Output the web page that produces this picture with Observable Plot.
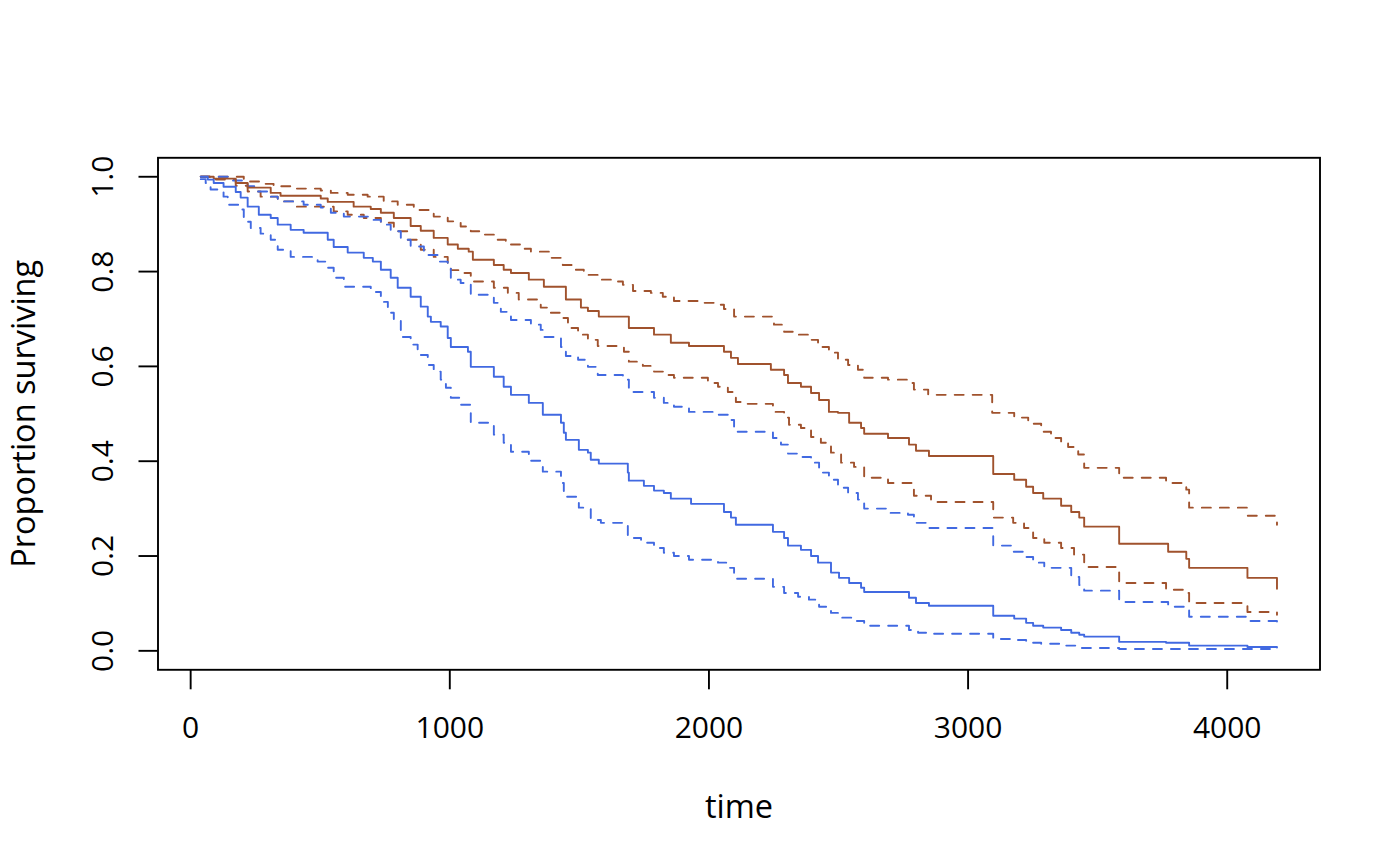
<!DOCTYPE html>
<html>
<head>
<meta charset="utf-8">
<script src="https://cdn.jsdelivr.net/npm/d3@7"></script>
<script src="https://cdn.jsdelivr.net/npm/@observablehq/plot@0.6"></script>
<style>
  html, body { margin: 0; padding: 0; background: #ffffff; }
  #chart { width: 1400px; height: 866px; }
</style>
</head>
<body>
<div id="chart"></div>
<script>
// ---------- data ----------
const xTicks = [0, 1000, 2000, 3000, 4000];
const yTicks = [0, 0.2, 0.4, 0.6, 0.8, 1.0];

// group 1 (brown): Kaplan-Meier estimate
const brownTime = [39, 89, 174, 220, 309, 347, 502, 529, 629, 695, 734, 784, 849, 888, 938, 992, 1031, 1073, 1089, 1170, 1208, 1236, 1305, 1363, 1448, 1506, 1533, 1575, 1691, 1788, 1853, 1923, 2058, 2085, 2112, 2239, 2290, 2305, 2355, 2394, 2425, 2463, 2498, 2541, 2587, 2599, 2691, 2772, 2799, 2849, 3097, 3178, 3224, 3251, 3290, 3359, 3398, 3429, 3448, 3583, 3772, 3842, 3853, 4078, 4192];
const brownSurv = [1.0, 0.996, 0.987, 0.977, 0.966, 0.96, 0.954, 0.947, 0.937, 0.932, 0.924, 0.913, 0.896, 0.886, 0.871, 0.857, 0.848, 0.842, 0.825, 0.814, 0.804, 0.797, 0.783, 0.768, 0.741, 0.724, 0.717, 0.705, 0.681, 0.667, 0.650, 0.643, 0.631, 0.618, 0.605, 0.593, 0.582, 0.565, 0.557, 0.544, 0.529, 0.504, 0.502, 0.481, 0.470, 0.458, 0.449, 0.435, 0.422, 0.411, 0.373, 0.361, 0.346, 0.333, 0.321, 0.306, 0.293, 0.281, 0.262, 0.226, 0.209, 0.194, 0.175, 0.154, 0.131];

// group 1 (brown): upper confidence limit
const brownUpperTime = [39, 205, 270, 320, 386, 502, 541, 606, 683, 745, 799, 861, 938, 992, 1042, 1081, 1120, 1170, 1216, 1274, 1313, 1390, 1436, 1479, 1517, 1571, 1622, 1668, 1707, 1776, 1822, 1865, 1969, 2035, 2058, 2097, 2251, 2290, 2344, 2386, 2421, 2463, 2498, 2537, 2575, 2599, 2691, 2768, 2791, 2846, 3093, 3178, 3232, 3282, 3320, 3359, 3386, 3425, 3448, 3583, 3764, 3842, 3853, 4078, 4192];
const brownUpperSurv = [1.0, 0.990, 0.985, 0.980, 0.975, 0.971, 0.966, 0.962, 0.958, 0.948, 0.941, 0.930, 0.916, 0.906, 0.895, 0.885, 0.878, 0.867, 0.857, 0.848, 0.842, 0.829, 0.814, 0.804, 0.793, 0.783, 0.779, 0.772, 0.759, 0.755, 0.747, 0.738, 0.734, 0.730, 0.721, 0.705, 0.688, 0.673, 0.667, 0.656, 0.641, 0.629, 0.614, 0.603, 0.593, 0.576, 0.572, 0.565, 0.551, 0.540, 0.502, 0.492, 0.479, 0.462, 0.449, 0.441, 0.430, 0.414, 0.386, 0.365, 0.354, 0.340, 0.302, 0.285, 0.266];

// group 1 (brown): lower confidence limit
const brownLowerTime = [39, 89, 174, 220, 270, 336, 398, 552, 606, 668, 734, 784, 838, 888, 938, 992, 1004, 1054, 1081, 1170, 1224, 1266, 1351, 1390, 1429, 1456, 1495, 1533, 1571, 1672, 1691, 1745, 1788, 1842, 1865, 1996, 2035, 2073, 2104, 2124, 2247, 2290, 2309, 2355, 2394, 2432, 2471, 2510, 2560, 2599, 2691, 2791, 2857, 3097, 3174, 3216, 3251, 3294, 3359, 3409, 3448, 3583, 3764, 3842, 3853, 4078, 4192];
const brownLowerSurv = [1.0, 0.994, 0.981, 0.969, 0.958, 0.948, 0.937, 0.927, 0.920, 0.913, 0.903, 0.885, 0.867, 0.846, 0.831, 0.810, 0.803, 0.797, 0.779, 0.766, 0.755, 0.741, 0.724, 0.713, 0.702, 0.681, 0.667, 0.656, 0.643, 0.631, 0.610, 0.601, 0.589, 0.582, 0.576, 0.565, 0.557, 0.546, 0.525, 0.521, 0.504, 0.492, 0.477, 0.470, 0.451, 0.439, 0.418, 0.397, 0.388, 0.365, 0.354, 0.327, 0.314, 0.281, 0.270, 0.259, 0.238, 0.228, 0.217, 0.203, 0.177, 0.143, 0.129, 0.122, 0.101, 0.082, 0.076];

// group 2 (blue): Kaplan-Meier estimate
const blueTime = [39, 66, 89, 127, 174, 193, 220, 263, 309, 336, 386, 436, 529, 552, 606, 668, 703, 734, 772, 799, 849, 888, 915, 927, 965, 992, 1004, 1070, 1081, 1170, 1208, 1236, 1305, 1359, 1429, 1440, 1448, 1498, 1533, 1544, 1575, 1687, 1691, 1749, 1788, 1826, 1853, 1931, 2058, 2085, 2104, 2247, 2290, 2305, 2355, 2394, 2421, 2471, 2502, 2541, 2587, 2599, 2772, 2799, 2849, 3097, 3178, 3224, 3251, 3290, 3359, 3398, 3429, 3448, 3583, 3764, 3853, 4078, 4192];
const blueSurv = [1.0, 0.994, 0.987, 0.979, 0.968, 0.956, 0.937, 0.920, 0.913, 0.899, 0.888, 0.882, 0.867, 0.852, 0.840, 0.829, 0.821, 0.804, 0.787, 0.766, 0.747, 0.726, 0.705, 0.694, 0.684, 0.660, 0.641, 0.631, 0.599, 0.578, 0.557, 0.540, 0.523, 0.498, 0.481, 0.460, 0.445, 0.424, 0.418, 0.403, 0.395, 0.376, 0.359, 0.348, 0.338, 0.333, 0.321, 0.310, 0.293, 0.281, 0.266, 0.251, 0.238, 0.222, 0.213, 0.200, 0.186, 0.165, 0.154, 0.143, 0.133, 0.124, 0.112, 0.101, 0.095, 0.074, 0.068, 0.059, 0.053, 0.049, 0.044, 0.038, 0.034, 0.030, 0.019, 0.017, 0.011, 0.008, 0.007];

// group 2 (blue): upper confidence limit
const blueUpperTime = [39, 154, 220, 259, 309, 336, 436, 502, 541, 591, 695, 734, 772, 811, 849, 900, 954, 992, 1004, 1042, 1081, 1170, 1197, 1236, 1313, 1351, 1363, 1429, 1448, 1495, 1533, 1571, 1668, 1691, 1788, 1826, 1865, 1923, 2035, 2073, 2097, 2247, 2278, 2305, 2355, 2394, 2425, 2463, 2498, 2537, 2575, 2599, 2691, 2768, 2791, 2846, 3097, 3174, 3224, 3251, 3294, 3398, 3429, 3448, 3583, 3772, 3853, 4078, 4192];
const blueUpperSurv = [1.0, 0.992, 0.980, 0.969, 0.958, 0.948, 0.941, 0.935, 0.924, 0.916, 0.909, 0.899, 0.885, 0.867, 0.853, 0.835, 0.821, 0.808, 0.783, 0.776, 0.751, 0.734, 0.715, 0.698, 0.688, 0.677, 0.662, 0.641, 0.622, 0.614, 0.599, 0.582, 0.572, 0.546, 0.534, 0.523, 0.515, 0.504, 0.498, 0.487, 0.462, 0.449, 0.435, 0.416, 0.409, 0.397, 0.376, 0.361, 0.344, 0.333, 0.319, 0.300, 0.291, 0.287, 0.270, 0.259, 0.222, 0.209, 0.198, 0.186, 0.175, 0.156, 0.139, 0.127, 0.103, 0.093, 0.072, 0.063, 0.055];

// group 2 (blue): lower confidence limit
const blueLowerTime = [39, 58, 77, 127, 143, 185, 205, 232, 270, 309, 336, 386, 490, 529, 552, 591, 695, 734, 761, 784, 811, 849, 876, 915, 938, 965, 985, 1004, 1042, 1081, 1170, 1208, 1236, 1305, 1359, 1429, 1440, 1498, 1544, 1583, 1687, 1738, 1788, 1826, 1865, 1923, 2035, 2073, 2097, 2247, 2290, 2344, 2386, 2425, 2471, 2502, 2560, 2599, 2772, 2807, 2857, 3097, 3174, 3224, 3282, 3359, 3437, 3583, 4192];
const blueLowerSurv = [0.995, 0.987, 0.973, 0.958, 0.941, 0.931, 0.905, 0.892, 0.880, 0.867, 0.846, 0.831, 0.821, 0.808, 0.787, 0.768, 0.757, 0.736, 0.713, 0.698, 0.662, 0.646, 0.624, 0.603, 0.589, 0.572, 0.555, 0.534, 0.519, 0.481, 0.456, 0.439, 0.420, 0.401, 0.378, 0.354, 0.325, 0.302, 0.276, 0.270, 0.238, 0.228, 0.217, 0.207, 0.200, 0.192, 0.186, 0.175, 0.152, 0.135, 0.122, 0.114, 0.108, 0.093, 0.080, 0.070, 0.063, 0.053, 0.044, 0.038, 0.036, 0.025, 0.023, 0.017, 0.015, 0.011, 0.006, 0.004, 0.002];

const brownColor = "#a0522d";
const blueColor = "#4169e1";

// ---------- build a long table ----------
const curves = [
  {key: "brown", dashed: false, color: brownColor, time: brownTime, surv: brownSurv},
  {key: "brownUpper", dashed: true, color: brownColor, time: brownUpperTime, surv: brownUpperSurv},
  {key: "brownLower", dashed: true, color: brownColor, time: brownLowerTime, surv: brownLowerSurv},
  {key: "blue", dashed: false, color: blueColor, time: blueTime, surv: blueSurv},
  {key: "blueUpper", dashed: true, color: blueColor, time: blueUpperTime, surv: blueUpperSurv},
  {key: "blueLower", dashed: true, color: blueColor, time: blueLowerTime, surv: blueLowerSurv}
];
const rows = curves.flatMap(c => c.time.map((t, i) => ({key: c.key, dashed: c.dashed, color: c.color, time: t, surv: c.surv[i]})));
const solidRows = rows.filter(d => !d.dashed);
const dashedRows = rows.filter(d => d.dashed);

const FONT = 30;
const LABEL_FONT = 32.5;

const chart = Plot.plot({
  width: 1400,
  height: 866,
  marginLeft: 157.5,
  marginRight: 80.5,
  marginTop: 157.3,
  marginBottom: 196.7,
  style: {fontFamily: "'Open Sans', 'Noto Sans', sans-serif", fontSize: FONT + "px", background: "#ffffff", color: "#000000", overflow: "visible"},
  x: {domain: [-126, 4358]},
  y: {domain: [-0.04, 1.04]},
  color: {type: "identity"},
  marks: [
    Plot.line(dashedRows, {x: "time", y: "surv", z: "key", stroke: "color", strokeWidth: 1.9, strokeDasharray: "9,9", strokeLinecap: "round", curve: "step-after"}),
    Plot.line(solidRows, {x: "time", y: "surv", z: "key", stroke: "color", strokeWidth: 1.9, curve: "step-after"}),
    Plot.frame({stroke: "#000000", strokeWidth: 1.9}),
    Plot.axisX({ticks: xTicks, tickSize: 20, tickPadding: 27, tickFormat: d => String(d), stroke: "#000000", strokeWidth: 1.9, fontSize: FONT, label: null}),
    Plot.axisX({ticks: [], label: "time", labelAnchor: "center", labelArrow: "none", labelOffset: 148, fontSize: LABEL_FONT}),
    Plot.axisY({ticks: yTicks, tickSize: 19, tickPadding: 26, tickRotate: -90, tickFormat: d3.format(".1f"), stroke: "#000000", strokeWidth: 1.9, fontSize: FONT, label: null}),
    Plot.axisY({ticks: [], label: "Proportion surviving", labelAnchor: "center", labelArrow: "none", labelOffset: 146, fontSize: LABEL_FONT})
  ]
});
document.getElementById("chart").appendChild(chart);
</script>
</body>
</html>
